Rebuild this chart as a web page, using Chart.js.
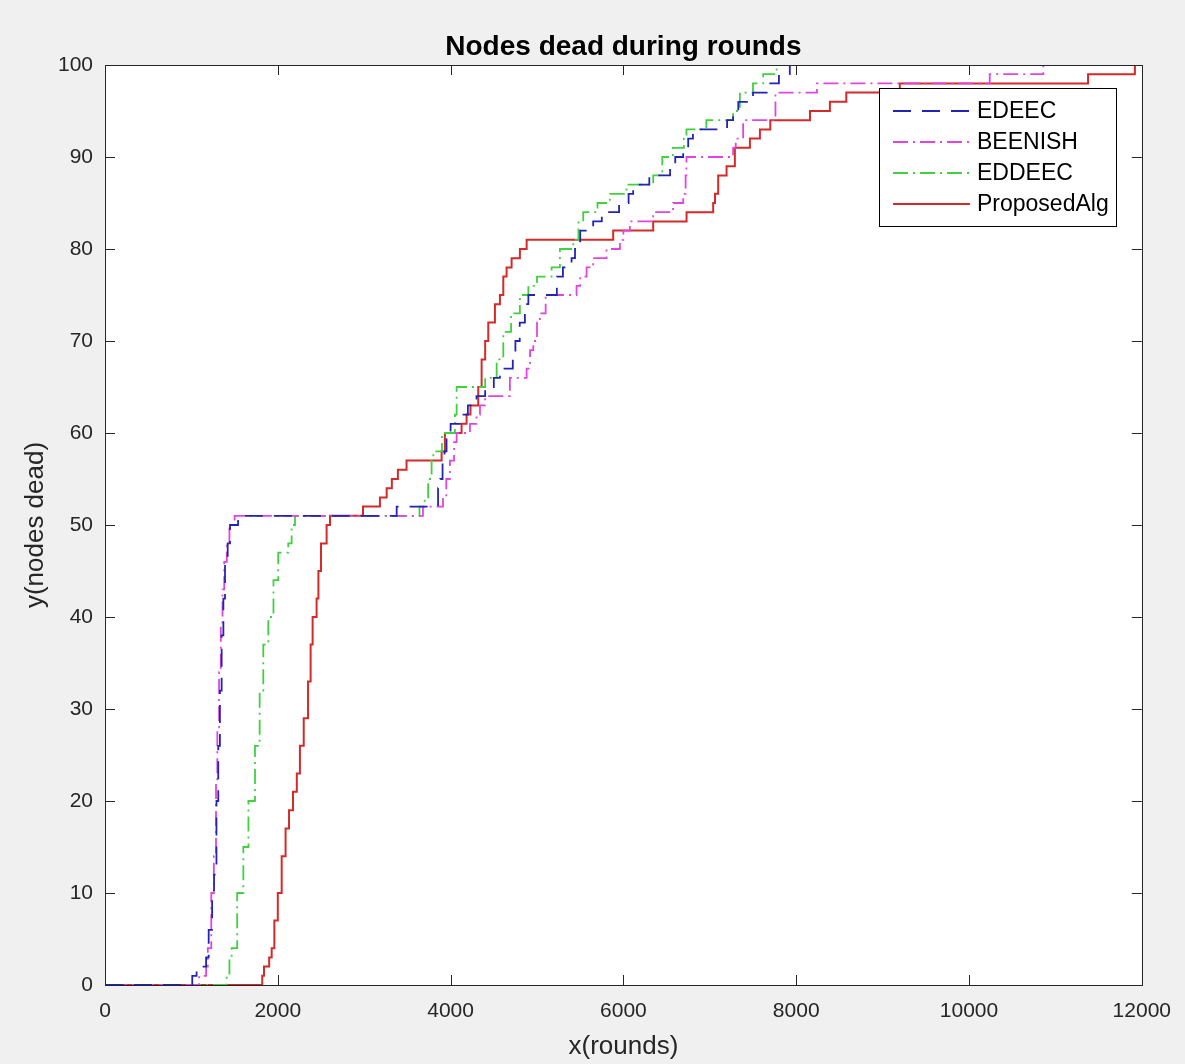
<!DOCTYPE html>
<html>
<head>
<meta charset="utf-8">
<title>Nodes dead during rounds</title>
<script src="https://cdn.jsdelivr.net/npm/chart.js@4.4.1/dist/chart.umd.min.js"></script>
<style>
  html, body { margin: 0; padding: 0; background: #f0f0f0; }
  #wrap { width: 1185px; height: 1064px; }
</style>
</head>
<body>
<div id="wrap"><canvas id="chart" width="1185" height="1064"></canvas></div>
<script>
// step points: round at which the count jumps, and the new count of dead nodes
const edeecRounds = [0, 1010, 1060, 1170, 1200, 1240, 1262, 1290, 1311, 1330, 1350, 1370, 1389, 1420, 1447, 1540,
  3376, 3855, 3880, 3907, 3930, 3953, 4000, 4130, 4200, 4300, 4400, 4500, 4570, 4720, 4750, 4800, 4860, 4900,
  5230, 5300, 5400, 5440, 5500, 5650, 5750, 5950, 6060, 6113, 6300, 6540, 6600, 6692, 6750, 6805, 7200, 7270,
  7330, 7500, 7700, 7800, 7926, 12000];
const edeecDead = [0, 1, 2, 3, 6, 10, 12, 20, 26, 32, 38, 42, 46, 48, 50, 51,
  52, 54, 55, 57, 58, 60, 61, 62, 63, 64, 65, 66, 67, 68, 70, 72, 74, 75,
  77, 78, 79, 80, 82, 83, 84, 85, 86, 87, 88, 89, 90, 91, 92, 93, 94, 95,
  96, 97, 98, 99, 100, 100];

const beenishRounds = [0, 1090, 1170, 1190, 1230, 1260, 1285, 1300, 1320, 1340, 1360, 1380, 1410, 1440, 1500,
  3680, 3912, 3950, 3992, 4040, 4070, 4224, 4300, 4340, 4400, 4686, 4880, 4920, 4957, 5000, 5034, 5100,
  5458, 5500, 5574, 5650, 5805, 5960, 6000, 6075, 6345, 6575, 6692, 6720, 6730, 7270, 7300, 7386, 7760,
  8240, 10240, 10860, 12000];
const beenishDead = [0, 1, 2, 4, 10, 14, 22, 28, 34, 39, 43, 46, 48, 50, 51,
  52, 53, 55, 57, 59, 60, 61, 62, 63, 64, 66, 67, 69, 70, 72, 73, 75,
  76, 77, 78, 79, 80, 81, 82, 83, 84, 85, 86, 88, 90, 91, 92, 94, 97,
  98, 99, 100, 100];

const eddeecRounds = [0, 1408, 1440, 1466, 1530, 1601, 1660, 1736, 1790, 1832, 1890, 1950, 2005, 2121, 2160, 2199,
  3640, 3700, 3740, 3780, 3800, 3900, 4050, 4070, 4400, 4533, 4610, 4700, 4802, 4900, 5000, 5169, 5265,
  5420, 5480, 5535, 5700, 5843, 6036, 6345, 6450, 6574, 6700, 6730, 6960, 7270, 7348, 7500, 7618, 7773, 12000];
const eddeecDead = [0, 1, 3, 4, 10, 15, 20, 26, 32, 37, 40, 44, 47, 48, 50, 51,
  52, 53, 55, 57, 58, 60, 62, 65, 66, 68, 71, 73, 75, 76, 77, 78, 80,
  81, 83, 84, 85, 86, 87, 88, 90, 91, 92, 93, 94, 95, 97, 98, 99, 100, 100];

const proposedRounds = [0, 1820, 1840, 1900, 1929, 1960, 2000, 2045, 2090, 2130, 2176, 2220, 2256, 2300, 2350,
  2380, 2403, 2449, 2470, 2500, 2565, 2604, 2986, 3182, 3260, 3320, 3390, 3490, 3896, 3934, 4127, 4185,
  4230, 4320, 4359, 4400, 4436, 4513, 4571, 4610, 4648, 4706, 4802, 4880, 5882, 6345, 6731, 7039, 7060,
  7097, 7194, 7290, 7464, 7580, 7700, 8160, 8390, 8580, 9199, 11378, 11920, 12000];
const proposedDead = [0, 1, 2, 3, 4, 7, 10, 14, 17, 19, 21, 23, 26, 29, 33,
  37, 40, 42, 45, 48, 50, 51, 52, 53, 54, 55, 56, 57, 58, 60, 61, 62,
  63, 65, 68, 70, 72, 74, 75, 77, 78, 79, 80, 81, 82, 83, 84, 85, 86,
  88, 89, 91, 92, 93, 94, 95, 96, 97, 98, 99, 100, 100];

const xTicks = [0, 2000, 4000, 6000, 8000, 10000, 12000];
const yTicks = [0, 10, 20, 30, 40, 50, 60, 70, 80, 90, 100];

const axisColor = '#262626';
const fontFamily = '"Liberation Sans", Arial, Helvetica, sans-serif';

function points(xs, ys) {
  return xs.map((x, i) => ({ x: x, y: ys[i] }));
}

// MATLAB-like frame: grey figure, white axes, inward ticks on all four sides, title and boxed legend
const matlabFrame = {
  id: 'matlabFrame',
  beforeDraw(chart) {
    const { ctx, chartArea: a } = chart;
    ctx.save();
    ctx.fillStyle = '#f0f0f0';
    ctx.fillRect(0, 0, chart.width, chart.height);
    ctx.fillStyle = '#ffffff';
    ctx.fillRect(a.left, a.top, a.right - a.left, a.bottom - a.top);
    ctx.restore();
  },
  afterDatasetsDraw(chart) {
    const { ctx, chartArea: a, scales } = chart;
    const tick = 10;
    ctx.save();
    ctx.strokeStyle = axisColor;
    ctx.lineWidth = 1;
    ctx.beginPath();
    xTicks.forEach(v => {
      const px = Math.round(scales.x.getPixelForValue(v)) + 0.5;
      ctx.moveTo(px, a.bottom);
      ctx.lineTo(px, a.bottom - tick);
      ctx.moveTo(px, a.top);
      ctx.lineTo(px, a.top + tick);
    });
    yTicks.forEach(v => {
      const py = Math.round(scales.y.getPixelForValue(v)) + 0.5;
      ctx.moveTo(a.left, py);
      ctx.lineTo(a.left + tick, py);
      ctx.moveTo(a.right, py);
      ctx.lineTo(a.right - tick, py);
    });
    ctx.stroke();
    ctx.strokeRect(Math.round(a.left) + 0.5, Math.round(a.top) + 0.5,
      Math.round(a.right - a.left), Math.round(a.bottom - a.top));

    // title
    ctx.fillStyle = '#000000';
    ctx.font = 'bold 28px ' + fontFamily;
    ctx.textAlign = 'center';
    ctx.textBaseline = 'alphabetic';
    ctx.fillText('Nodes dead during rounds', (a.left + a.right) / 2, 55);

    // legend box
    const box = { x: 879.5, y: 88.5, w: 237, h: 138 };
    ctx.fillStyle = '#ffffff';
    ctx.fillRect(box.x, box.y, box.w, box.h);
    ctx.strokeStyle = '#000000';
    ctx.lineWidth = 1;
    ctx.strokeRect(box.x, box.y, box.w, box.h);
    ctx.font = '23px ' + fontFamily;
    ctx.textAlign = 'left';
    ctx.textBaseline = 'middle';
    chart.data.datasets.forEach((ds, i) => {
      const cy = 111 + i * 31;
      ctx.save();
      ctx.strokeStyle = ds.borderColor;
      ctx.lineWidth = ds.borderWidth;
      ctx.setLineDash(ds.borderDash || []);
      ctx.beginPath();
      ctx.moveTo(893, cy);
      ctx.lineTo(970, cy);
      ctx.stroke();
      ctx.restore();
      ctx.fillStyle = '#000000';
      ctx.fillText(ds.label, 977, cy + 1);
    });
    ctx.restore();
  }
};

new Chart(document.getElementById('chart'), {
  type: 'line',
  data: {
    datasets: [
      {
        label: 'EDEEC',
        data: points(edeecRounds, edeecDead),
        borderColor: '#2424b4',
        borderWidth: 1.8,
        borderDash: [18, 11]
      },
      {
        label: 'BEENISH',
        data: points(beenishRounds, beenishDead),
        borderColor: '#e045e0',
        borderWidth: 1.8,
        borderDash: [15, 5, 2, 5]
      },
      {
        label: 'EDDEEC',
        data: points(eddeecRounds, eddeecDead),
        borderColor: '#40d040',
        borderWidth: 1.8,
        borderDash: [15, 5, 2, 5]
      },
      {
        label: 'ProposedAlg',
        data: points(proposedRounds, proposedDead),
        borderColor: '#d42a2a',
        borderWidth: 2
      }
    ]
  },
  options: {
    responsive: false,
    animation: false,
    devicePixelRatio: 1,
    layout: { padding: { left: 0, top: 65, right: 43, bottom: 0 } },
    elements: {
      line: { stepped: true, tension: 0, fill: false },
      point: { radius: 0, hoverRadius: 0 }
    },
    plugins: {
      legend: { display: false },
      title: { display: false },
      tooltip: { enabled: false }
    },
    scales: {
      x: {
        type: 'linear',
        min: 0,
        max: 12000,
        afterFit: scale => { scale.height = 79; },
        afterBuildTicks: scale => { scale.ticks = xTicks.map(v => ({ value: v })); },
        ticks: {
          color: axisColor,
          font: { size: 21, family: fontFamily },
          padding: 14,
          maxRotation: 0,
          callback: v => String(v)
        },
        grid: { display: false, drawTicks: false },
        border: { display: false },
        title: {
          display: true,
          text: 'x(rounds)',
          color: axisColor,
          font: { size: 26, family: fontFamily },
          padding: { top: 0, bottom: 2 }
        }
      },
      y: {
        type: 'linear',
        min: 0,
        max: 100,
        afterFit: scale => { scale.width = 105; },
        afterBuildTicks: scale => { scale.ticks = yTicks.map(v => ({ value: v })); },
        ticks: {
          color: axisColor,
          font: { size: 21, family: fontFamily },
          padding: 12,
          callback: v => String(v)
        },
        grid: { display: false, drawTicks: false },
        border: { display: false },
        title: {
          display: true,
          text: 'y(nodes dead)',
          color: axisColor,
          font: { size: 26, family: fontFamily },
          padding: { top: 20, bottom: 0 }
        }
      }
    }
  },
  plugins: [matlabFrame]
});
</script>
</body>
</html>
